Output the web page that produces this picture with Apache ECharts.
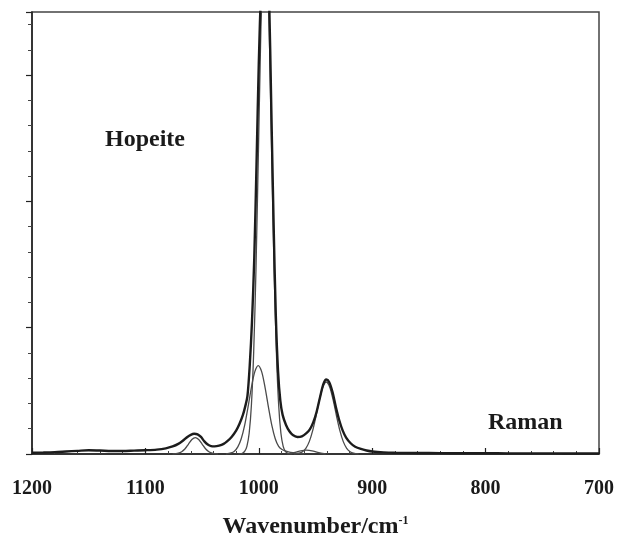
<!DOCTYPE html>
<html>
<head>
<meta charset="utf-8">
<script src="https://cdn.jsdelivr.net/npm/echarts@6/dist/echarts.min.js"></script>
<style>
  html, body { margin: 0; padding: 0; background: #fff; }
  #chart { width: 617px; height: 539px; }
</style>
</head>
<body>
<div id="chart"></div>
<script>
// measured Raman spectrum (wavenumber / intensity)
const specX = [1200, 1190, 1180, 1170, 1160, 1150, 1140, 1130, 1120, 1110, 1100, 1090, 1082, 1076, 1071, 1067, 1063, 1060, 1057, 1054, 1051, 1048, 1045, 1042, 1039, 1035, 1031, 1028, 1024, 1020, 1017, 1014, 1012, 1010, 1008, 1006, 1004, 1002, 1000, 998, 996, 994.5, 993, 991, 989, 987, 985, 983, 981, 979, 976, 973, 970, 966, 962, 958, 955, 952, 949, 946, 943, 940.5, 938, 935, 932, 929, 926, 923, 919, 915, 910, 905, 900, 890, 880, 860, 840, 820, 800, 780, 760, 740, 720, 700]
const specY = [0.010, 0.012, 0.015, 0.020, 0.025, 0.030, 0.028, 0.024, 0.024, 0.027, 0.030, 0.035, 0.045, 0.060, 0.080, 0.105, 0.135, 0.152, 0.160, 0.155, 0.135, 0.100, 0.075, 0.062, 0.060, 0.066, 0.080, 0.100, 0.135, 0.185, 0.240, 0.310, 0.375, 0.460, 0.700, 1.050, 1.550, 2.300, 3.100, 3.700, 4.150, 4.300, 4.150, 3.650, 2.750, 1.850, 1.100, 0.650, 0.420, 0.310, 0.230, 0.180, 0.150, 0.135, 0.140, 0.165, 0.195, 0.250, 0.335, 0.450, 0.555, 0.590, 0.570, 0.490, 0.370, 0.265, 0.185, 0.130, 0.085, 0.058, 0.040, 0.028, 0.020, 0.013, 0.010, 0.008, 0.007, 0.006, 0.006, 0.005, 0.005, 0.005, 0.004, 0.004]

// fitted band components
const band1X = [1018, 1014.5, 1012.5, 1010.5, 1008.5, 1006.5, 1004.5, 1002.5, 1000.5, 998.5, 996.5, 994.5, 992.5, 990.5, 988.5, 986.5, 984.5, 982.5, 980.5, 978.5, 976.5, 974.5, 971]
const band1Y = [0, 0.006, 0.020, 0.061, 0.164, 0.390, 0.810, 1.460, 2.320, 3.220, 3.930, 4.200, 3.930, 3.220, 2.320, 1.460, 0.810, 0.390, 0.164, 0.061, 0.020, 0.006, 0]

const band2X = [1029, 1024.5, 1021.5, 1018.5, 1015.5, 1012.5, 1009.5, 1006.5, 1003.5, 1000.5, 997.5, 994.5, 991.5, 988.5, 985.5, 982.5, 979.5, 976, 972, 966, 960]
const band2Y = [0, 0.008, 0.022, 0.056, 0.121, 0.227, 0.372, 0.528, 0.652, 0.700, 0.652, 0.528, 0.372, 0.227, 0.121, 0.060, 0.035, 0.022, 0.012, 0.005, 0]

const band3X = [969, 964.5, 961.5, 958.5, 955.5, 952.5, 949.5, 946.5, 943.5, 940.5, 937.5, 934.5, 931.5, 928.5, 925.5, 922.5, 919.5, 916.5, 912]
const band3Y = [0, 0.006, 0.018, 0.045, 0.098, 0.185, 0.303, 0.430, 0.531, 0.570, 0.531, 0.430, 0.303, 0.185, 0.098, 0.045, 0.018, 0.006, 0]

const band4X = [1076, 1071, 1068, 1065, 1062, 1059, 1056, 1053, 1050, 1047, 1044, 1041, 1036]
const band4Y = [0, 0.006, 0.018, 0.042, 0.079, 0.115, 0.130, 0.115, 0.079, 0.042, 0.018, 0.006, 0]

const band5X = [975, 968, 963, 958, 953, 948, 941]
const band5Y = [0, 0.012, 0.025, 0.030, 0.025, 0.012, 0]

const xTicks = [700, 800, 900, 1000, 1100, 1200]

const chart = echarts.init(document.getElementById('chart'))

const serif = 'Liberation Serif, Times New Roman, serif'
const pairs = (xs, ys) => xs.map((x, i) => [x, ys[i]])

const bandStyle = { color: '#4a4a4a', width: 1.3 }
const bands = [[band1X, band1Y], [band2X, band2Y], [band3X, band3Y], [band4X, band4Y], [band5X, band5Y]]

chart.setOption({
  animation: false,
  backgroundColor: '#fff',
  grid: {
    left: 32,
    right: 18,
    top: 12,
    bottom: 85,
    outerBoundsMode: 'none',
    containLabel: false,
    show: true,
    borderColor: '#444',
    borderWidth: 1.5
  },
  xAxis: {
    type: 'value',
    min: xTicks[0],
    max: xTicks[xTicks.length - 1],
    interval: 100,
    inverse: true,
    splitLine: { show: false },
    axisLine: { lineStyle: { color: '#222', width: 1.5 } },
    axisTick: { inside: true, length: 6, lineStyle: { color: '#222', width: 1.2 } },
    minorTick: { show: true, splitNumber: 5, length: 3, lineStyle: { color: '#444' } },
    axisLabel: {
      margin: 25,
      fontFamily: serif,
      fontWeight: 'bold',
      fontSize: 20,
      color: '#1a1a1a',
      formatter: v => String(v)
    },
    name: '{t|Wavenumber/cm}{s|-1}',
    nameLocation: 'middle',
    nameGap: 61,
    nameTextStyle: {
      rich: {
        t: { fontFamily: serif, fontWeight: 'bold', fontSize: 24, color: '#1a1a1a' },
        s: { fontFamily: serif, fontWeight: 'bold', fontSize: 12, color: '#1a1a1a', verticalAlign: 'top' }
      }
    }
  },
  yAxis: {
    type: 'value',
    min: 0,
    max: 3.5,
    interval: 1,
    splitLine: { show: false },
    axisLine: { lineStyle: { color: '#222', width: 1.5 } },
    axisTick: { length: 6, lineStyle: { color: '#222', width: 1.2 } },
    minorTick: { show: true, splitNumber: 5, length: 4, lineStyle: { color: '#444' } },
    axisLabel: { show: false }
  },
  series: [
    ...bands.map(([xs, ys]) => ({
      type: 'line',
      data: pairs(xs, ys),
      smooth: 0.3,
      showSymbol: false,
      lineStyle: bandStyle,
      z: 2
    })),
    {
      type: 'line',
      data: pairs(specX, specY),
      smooth: 0.3,
      showSymbol: false,
      lineStyle: { color: '#1c1c1c', width: 2.4 },
      z: 3
    }
  ],
  graphic: [
    {
      type: 'text',
      left: 105,
      top: 128,
      style: { text: 'Hopeite', font: 'bold 24px ' + serif, fill: '#1a1a1a' }
    },
    {
      type: 'text',
      left: 488,
      top: 411,
      style: { text: 'Raman', font: 'bold 24px ' + serif, fill: '#1a1a1a' }
    }
  ]
})
</script>
</body>
</html>
